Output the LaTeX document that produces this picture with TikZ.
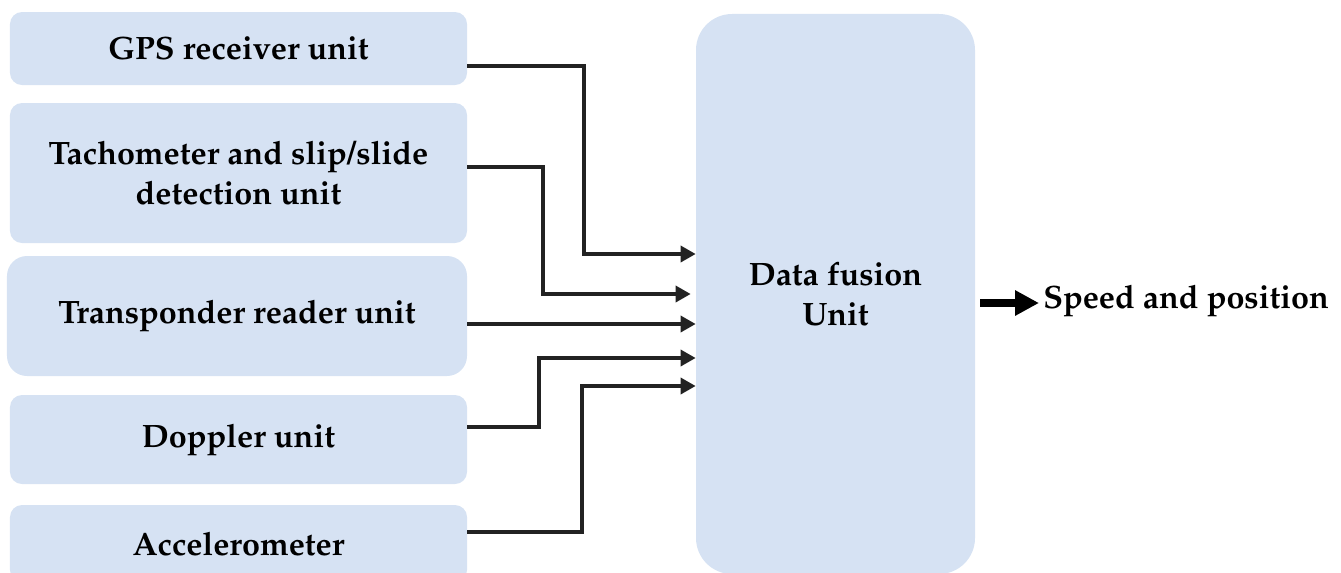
\documentclass[tikz,border=0pt]{standalone}
\usepackage[T1]{fontenc}
\usepackage{mathpazo}
\usetikzlibrary{arrows.meta,calc}

\definecolor{boxblue}{RGB}{214,226,243}
\definecolor{linegray}{RGB}{34,34,34}

\tikzset{
	unit/.style={fill=boxblue, rounded corners=3mm, align=center,
		font=\fontsize{23}{28}\selectfont\bfseries},
	link/.style={draw=linegray, line width=1mm, -{Triangle[length=3.8mm,width=4mm]}},
	bigarrow/.style={draw=black, line width=1.8mm, -{Triangle[length=6mm,width=6mm]}},
}

\begin{document}
\begin{tikzpicture}[x=0.25mm,y=-0.25mm]
	\useasboundingbox (0,0) rectangle (1341,572);

	% sensor units
	\node [unit, minimum width=114.25mm, minimum height=18.25mm] (gps) at (238.5,48.5) {GPS receiver unit};
	\node [unit, minimum width=114.25mm, minimum height=35mm] (tacho) at (238.5,173) {Tachometer and slip/slide\\detection unit};
	\node [unit, rounded corners=5mm, minimum width=115mm, minimum height=30mm] (transp) at (237,316) {Transponder reader unit};
	\node [unit, minimum width=114.25mm, minimum height=22.25mm] (doppler) at (238.5,439.5) {Doppler unit};
	\node [unit, minimum width=114.25mm, minimum height=19.25mm] (accel) at (238.5,543.5) {Accelerometer};

	% fusion block and its output
	\node [unit, rounded corners=9mm, minimum width=69.75mm, minimum height=140mm] (fusion) at (835.5,294) {Data fusion\\Unit};
	\node [font=\fontsize{23}{28}\selectfont\bfseries, anchor=west, inner sep=0pt] (out) at (1043,301) {Speed and position};

	% inputs on the fusion block
	\coordinate (f1) at (fusion.west |- 0,254);
	\coordinate (f2) at ($(fusion.west |- 0,294)+(-5,0)$);
	\coordinate (f3) at (fusion.west |- 0,324);
	\coordinate (f4) at (fusion.west |- 0,358);
	\coordinate (f5) at (fusion.west |- 0,386);

	\draw [link] (gps.east |- 0,66) -- (584,66) |- (f1);
	\draw [link] (tacho.east |- 0,167) -- (543,167) |- (f2);
	\draw [link] (transp.east |- 0,324) -- (f3);
	\draw [link] (doppler.east |- 0,427) -- (539,427) |- (f4);
	\draw [link] (accel.east |- 0,532) -- (582,532) |- (f5);

	\draw [bigarrow] ($(fusion.east |- 0,303)+(5,0)$) -- ($(out.west |- 0,303)+(-4,0)$);
\end{tikzpicture}
\end{document}
